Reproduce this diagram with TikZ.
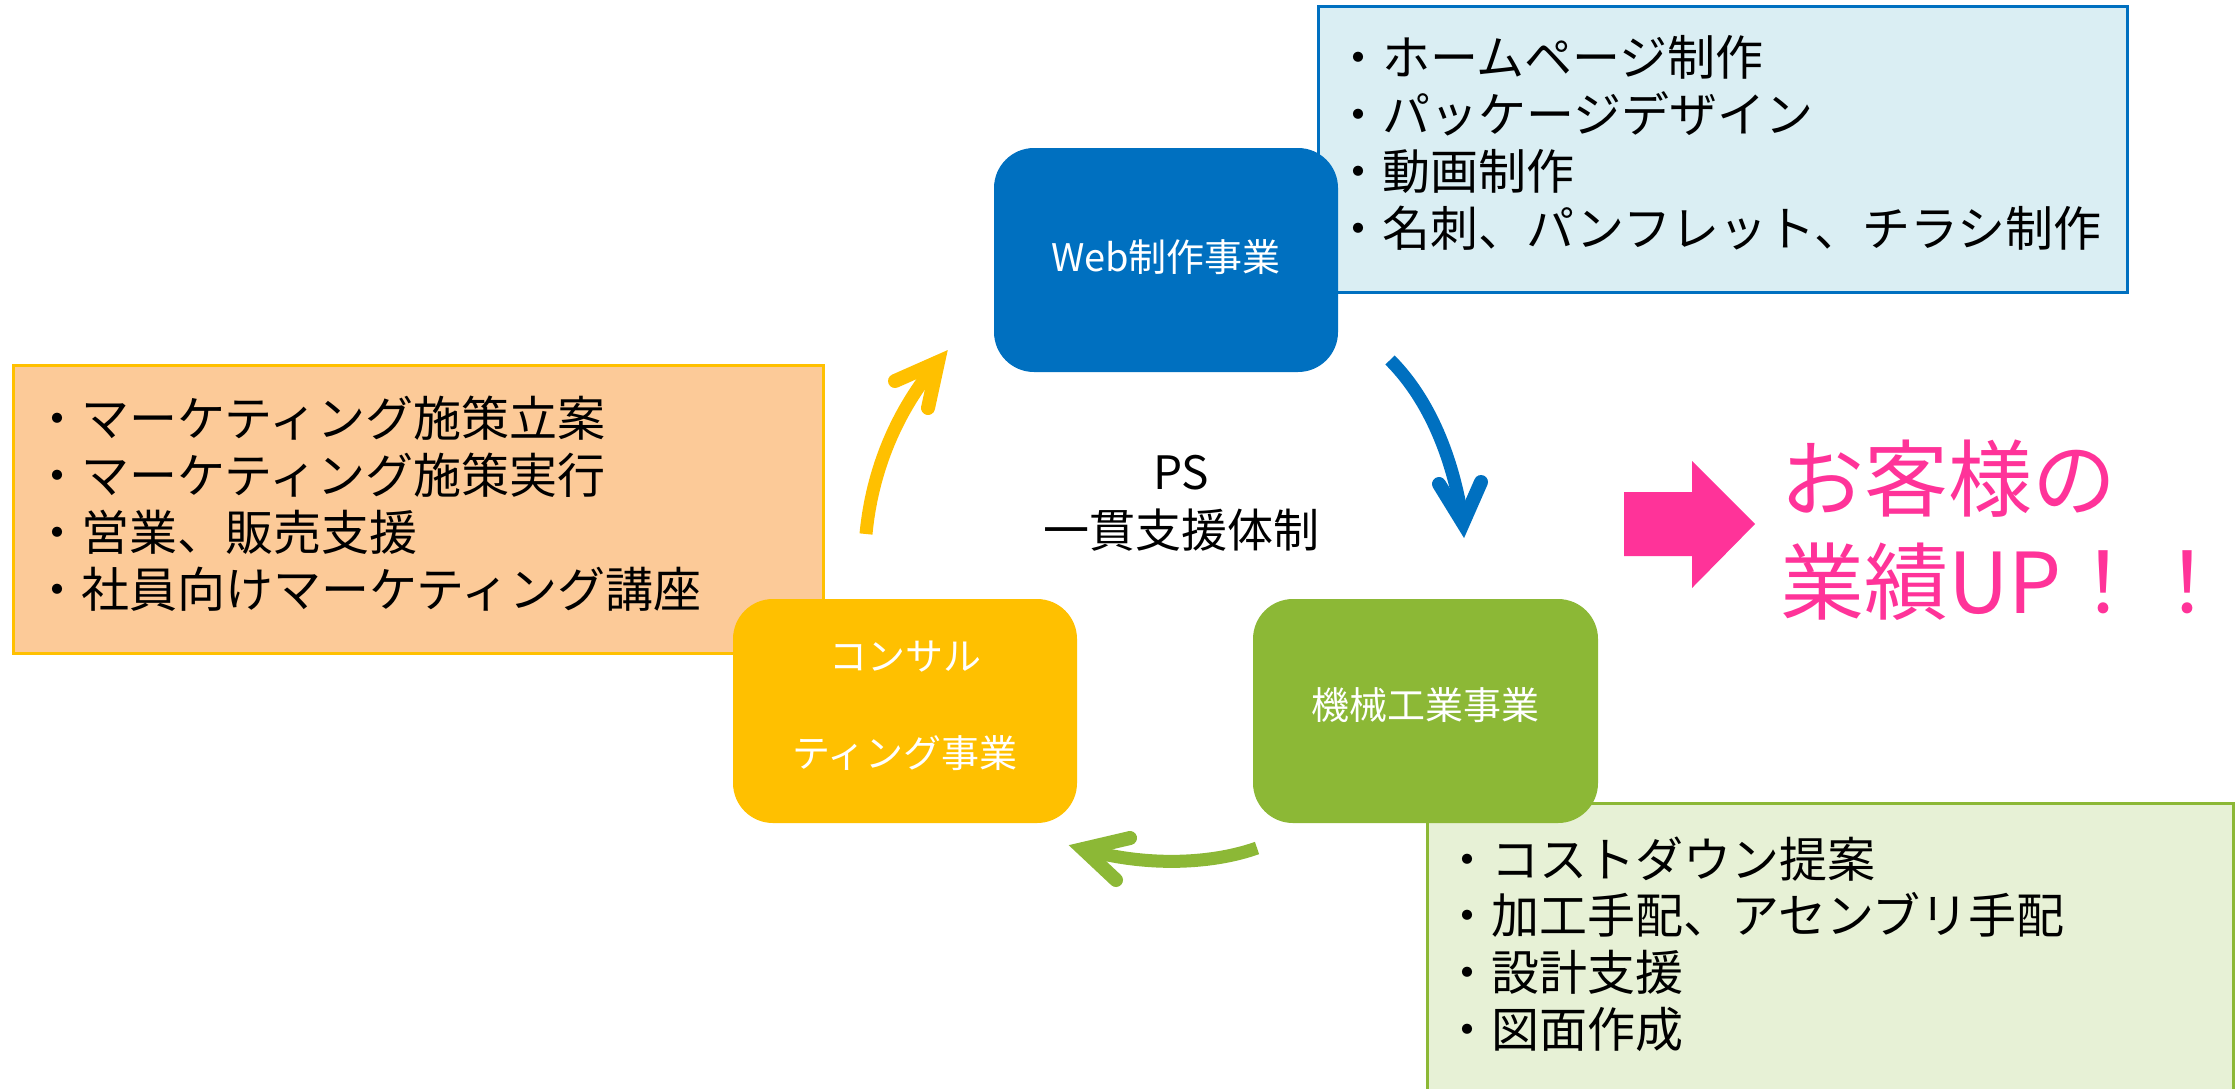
\documentclass[tikz,border=0pt]{standalone}
\usepackage{fontspec}
\setmainfont{Noto Sans CJK JP}
\definecolor{webblue}{RGB}{0,112,192}
\definecolor{lightblue}{RGB}{218,238,243}
\definecolor{cyellow}{RGB}{255,192,0}
\definecolor{lightorange}{RGB}{252,202,152}
\definecolor{mgreen}{RGB}{140,184,54}
\definecolor{lightgreen}{RGB}{231,241,214}
\definecolor{cpink}{RGB}{255,51,153}
\begin{document}
\begin{tikzpicture}[x=1pt,y=-1pt,
  lbox/.style={draw, line width=3pt, inner sep=0pt, outer sep=0pt},
  cbox/.style={rounded corners=40pt, inner sep=0pt, outer sep=0pt, minimum width=344pt, minimum height=224pt},
  bl/.style={anchor=base west, inner sep=0pt, font=\fontsize{48}{57}\selectfont},
  lab/.style={text=white, font=\fontsize{38}{46}\selectfont, align=center, inner sep=0pt},
  shaft/.style={line width=13pt, line cap=butt},
  head/.style={line width=14pt, line cap=round, line join=miter, miter limit=10},
]
\useasboundingbox (0,0) rectangle (2237,1088);
\clip (0,0) rectangle (2237,1088);

% list boxes (behind)
\node[lbox, draw=webblue, fill=lightblue, minimum width=809pt, minimum height=286pt] (lbbox) at (1722.5,149) {};
\node[lbox, draw=cyellow, fill=lightorange, minimum width=810pt, minimum height=288pt] (orbox) at (418,509) {};
\node[lbox, draw=mgreen, fill=lightgreen, minimum width=806pt, minimum height=292pt] (grbox) at (1830,949) {};

% list texts
\node[bl] (lb1) at (1334,75) {・ホームページ制作};
\node[bl] (lb2) at (1334,132) {・パッケージデザイン};
\node[bl] (lb3) at (1334,189) {・動画制作};
\node[bl] (lb4) at (1334,246) {・名刺、パンフレット、チラシ制作};

\node[bl] (or1) at (33,436) {・マーケティング施策立案};
\node[bl] (or2) at (33,493) {・マーケティング施策実行};
\node[bl] (or3) at (33,550) {・営業、販売支援};
\node[bl] (or4) at (33,607) {・社員向けマーケティング講座};

\node[bl] (gr1) at (1443,877) {・コストダウン提案};
\node[bl] (gr2) at (1443,933) {・加工手配、アセンブリ手配};
\node[bl] (gr3) at (1443,990) {・設計支援};
\node[bl] (gr4) at (1443,1047) {・図面作成};

% business boxes
\node[cbox, fill=webblue] (web) at (1166,260) {};
\node[cbox, fill=cyellow] (con) at (905,711) {};
\node[cbox, fill=mgreen, minimum width=345pt] (mac) at (1425.5,711) {};

\node[lab] (weblab) at (1166,257) {Web制作事業};
\node[lab, font=\fontsize{38}{97}\selectfont] (conlab) at (905,706) {コンサル\\ティング事業};
\node[lab] (maclab) at (1425,705) {機械工業事業};

% center text
\node[align=center, inner sep=0pt, font=\fontsize{46}{58}\selectfont] (ps) at (1181,503) {PS\\一貫支援体制};

% curved arrows
\coordinate (yT) at (866,534);
\coordinate (yH) at (938,362);
\draw[shaft, cyellow] (yT) .. controls (872,470) and (897,410) .. (yH);
\draw[head, cyellow] (895,381) -- (yH) -- (928,408);

\coordinate (bT) at (1390,360);
\coordinate (bH) at (1463,523);
\draw[shaft, webblue] (bT) .. controls (1425,395) and (1452,450) .. (bH);
\draw[head, webblue] (1439,484) -- (bH) -- (1481,482);

\coordinate (gT) at (1257,848);
\coordinate (gH) at (1083,849);
\draw[shaft, mgreen] (gT) .. controls (1215,863) and (1150,868) .. (gH);
\draw[head, mgreen] (1130,838) -- (gH) -- (1116,880);

% pink block arrow
\fill[cpink] (1624,492) -- (1692,492) -- (1692,461) -- (1755,524) -- (1692,588) -- (1692,556) -- (1624,556) -- cycle;

\node[anchor=base west, inner sep=0pt, text=cpink, font=\fontsize{84}{100}\selectfont] (res1) at (1780,510) {お客様の};
\node[anchor=base west, inner sep=0pt, text=cpink, font=\fontsize{84}{100}\selectfont] (res2) at (1780,613) {業績UP！！};
\end{tikzpicture}
\end{document}
